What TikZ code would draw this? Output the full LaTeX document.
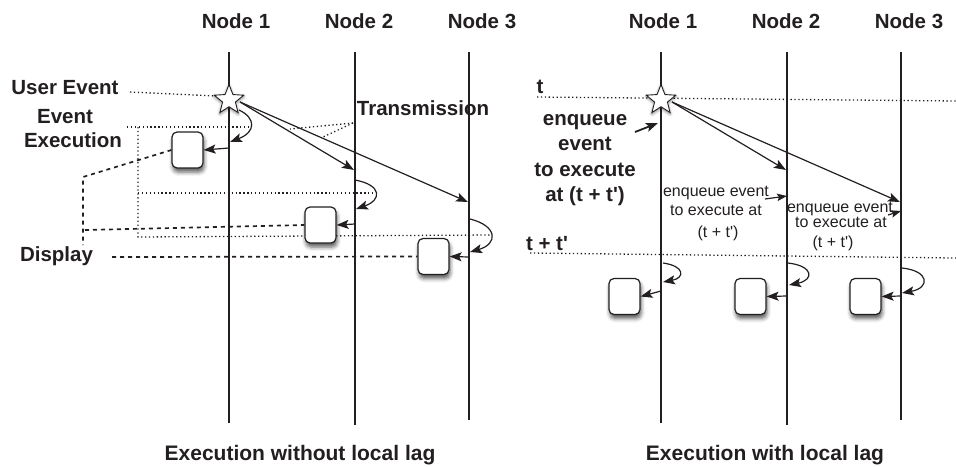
\documentclass[tikz,border=0pt]{standalone}
\usepackage{fontspec}
\setmainfont{Liberation Sans}
\usetikzlibrary{arrows.meta,shapes.geometric,shadows.blur}
\definecolor{ink}{HTML}{231F20}
\begin{document}
\begin{tikzpicture}[x=1pt,y=-1pt,
 lbl/.style={font=\fontsize{20.5}{24}\selectfont\bfseries, text=ink, inner sep=0pt, anchor=base},
 biglbl/.style={font=\fontsize{21}{24}\selectfont\bfseries, text=ink, inner sep=0pt, anchor=base},
 small/.style={font=\fontsize{16}{19}\selectfont, text=ink, inner sep=0pt, anchor=base},
 life/.style={draw=ink, line width=1.2pt},
 arr/.style={draw=ink, line width=1.2pt, -{Stealth[length=12pt,width=9pt,inset=2.5pt]}},
 sarr/.style={draw=ink, line width=1.2pt, -{Stealth[length=10pt,width=7.5pt,inset=2pt]}},
 dotl/.style={draw=ink, line width=1.3pt, dash pattern=on 1.3pt off 2.6pt},
 dshl/.style={draw=ink, line width=1.7pt, dash pattern=on 4pt off 4pt},
 evbox/.style={draw=ink, fill=white, line width=1.2pt, rounded corners=5pt,
   minimum width=31pt, minimum height=36pt, inner sep=0pt,
   blur shadow={shadow xshift=1pt, shadow yshift=-4pt, shadow blur radius=4pt, shadow opacity=65}},
 evstar/.style={star, star points=5, star point ratio=2.3, minimum size=31pt,
   draw=ink, fill=white, line width=0.9pt, inner sep=0pt,
   blur shadow={shadow xshift=0pt, shadow yshift=-1.5pt, shadow blur radius=3pt, shadow opacity=50}}
]
\useasboundingbox (0,0) rectangle (956,466);

% ---------- headers ----------
\node[lbl] (h1) at (236,28) {Node 1};
\node[lbl] (h2) at (359,28) {Node 2};
\node[lbl] (h3) at (482,28) {Node 3};
\node[lbl] (g1) at (663,28) {Node 1};
\node[lbl] (g2) at (786,28) {Node 2};
\node[lbl] (g3) at (909,28) {Node 3};

% ---------- lifelines ----------
\coordinate (L1t) at (229,52); \coordinate (L1b) at (229,423);
\coordinate (L2t) at (355,52); \coordinate (L2b) at (355,425);
\coordinate (L3t) at (469,52); \coordinate (L3b) at (469,420);
\coordinate (R1t) at (661,52); \coordinate (R1b) at (661,423);
\coordinate (R2t) at (787,52); \coordinate (R2b) at (787,425);
\coordinate (R3t) at (901,52); \coordinate (R3b) at (901,420);
\draw[life] (L1t) -- (L1b);
\draw[life] (L2t) -- (L2b);
\draw[life] (L3t) -- (L3b);
\draw[life] (R1t) -- (R1b);
\draw[life] (R2t) -- (R2b);
\draw[life] (R3t) -- (R3b);

% ---------- LEFT: labels ----------
\node[lbl] (ue) at (65,94) {User Event};
\node[lbl] (ee1) at (65,123) {Event};
\node[lbl] (ee2) at (73,147) {Execution};
\node[lbl] (tr) at (423,115) {Transmission};
\node[lbl] (dp) at (56.5,261) {Display};

% dotted annotation lines
\coordinate (ueE) at (130,92);
\coordinate (ueS) at (216,96);
\draw[dotl] (ueE) -- (ueS);
\coordinate (ex0) at (127,127);
\coordinate (ex1) at (250,127);
\coordinate (exc) at (138,127);
\coordinate (exb) at (138,237);
\coordinate (ex2) at (138,193);
\coordinate (ex2e) at (375,193);
\coordinate (ex3e) at (490,235);
\draw[dotl] (ex0) -- (ex1);
\draw[dotl] (exc) -- (exb) -- (ex3e);
\draw[dotl] (ex2) -- (ex2e);
\coordinate (trp) at (353,123);
\coordinate (tra) at (290,129);
\coordinate (trb) at (323,137);
\draw[dotl] (trp) -- (tra);
\draw[dotl] (trp) -- (trb);

% transmission arrows
\coordinate (s1o) at (240,102);
\coordinate (a12) at (354,170);
\coordinate (a13) at (468,202);
\draw[arr] (s1o) -- (a12);
\draw[arr] (s1o) -- (a13);

% loops
\coordinate (lp1s) at (239,110); \coordinate (lp1e) at (230,142);
\draw[arr] (lp1s) .. controls (256,118) and (256,132) .. (lp1e);
\coordinate (lp2s) at (355,180); \coordinate (lp2e) at (356,209);
\draw[arr] (lp2s) .. controls (382,185) and (382,200) .. (lp2e);
\coordinate (lp3s) at (470,219); \coordinate (lp3e) at (470,252);
\draw[arr] (lp3s) .. controls (498,226) and (498,244) .. (lp3e);

% boxes
\node[evbox] (b1) at (187.5,150) {};
\node[evbox] (b2) at (320.5,225) {};
\node[evbox] (b3) at (433.5,256.5) {};
\coordinate (b1a) at (229,148);
\coordinate (b2a) at (355,224);
\coordinate (b3a) at (469,257);
\draw[arr] (b1a) -- (b1.east);
\draw[arr] (b2a) -- (b2.east);
\draw[arr] (b3a) -- (b3.east);

% display dashed lines
\coordinate (d1) at (83,177);
\coordinate (d1b) at (83,245);
\draw[dshl] (b1.west) -- (d1) -- (d1b);
\coordinate (d2) at (85,230);
\draw[dshl] (d2) -- (b2.west);
\coordinate (d3) at (112,257);
\draw[dshl] (d3) -- (b3.west);

% star
\node[evstar] (star1) at (229,100) {};

% bottom label
\node[biglbl] (cap1) at (300,460) {Execution without local lag};

% ---------- RIGHT ----------
\node[lbl] (tl) at (540,93) {t};
\node[lbl] (ttl) at (547,250) {t + t\textquotesingle};
\coordinate (tls) at (537,97); \coordinate (tle) at (956,101);
\draw[dotl] (tls) -- (tle);
\coordinate (ttls) at (530,253); \coordinate (ttle) at (956,258);
\draw[dotl] (ttls) -- (ttle);

\node[lbl] (q1) at (585,125) {enqueue};
\node[lbl] (q2) at (585,150.5) {event};
\node[lbl] (q3) at (585,176) {to execute};
\node[lbl] (q4) at (585,201.5) {at (t + t\textquotesingle)};
\coordinate (qa) at (635,132);
\coordinate (qb) at (658,123);
\draw[arr, line width=1.8pt] (qa) -- (qb);

\coordinate (s2o) at (672,102);
\coordinate (c12) at (786,170);
\coordinate (c13) at (900,202);
\draw[arr] (s2o) -- (c12);
\draw[arr] (s2o) -- (c13);

\node[small] (m1) at (716,196) {enqueue event};
\node[small] (m2) at (716,215) {to execute at};
\node[small] (m3) at (718,237) {(t + t\textquotesingle)};
\node[small] (n1) at (840,212) {enqueue event};
\node[small] (n2) at (841,227) {to execute at};
\node[small] (n3) at (833,247) {(t + t\textquotesingle)};
\coordinate (ma) at (765,199); \coordinate (mb) at (787,196);
\draw[sarr] (ma) -- (mb);
\coordinate (na) at (888,215); \coordinate (nb) at (901,211);
\draw[sarr] (na) -- (nb);

% loops right
\coordinate (rl1s) at (663,263); \coordinate (rl1e) at (663,282);
\draw[arr] (rl1s) .. controls (685,266) and (685,278) .. (rl1e);
\coordinate (rl2s) at (788,263); \coordinate (rl2e) at (789,285);
\draw[arr] (rl2s) .. controls (814,266) and (814,280) .. (rl2e);
\coordinate (rl3s) at (902,268); \coordinate (rl3e) at (902,293);
\draw[arr] (rl3s) .. controls (930,271) and (930,288) .. (rl3e);

\node[evbox] (rb1) at (624.5,296.5) {};
\node[evbox] (rb2) at (750.5,296.5) {};
\node[evbox] (rb3) at (865.5,296.5) {};
\coordinate (rb1a) at (661,291);
\coordinate (rb2a) at (787,296);
\coordinate (rb3a) at (901,296);
\draw[arr] (rb1a) -- (rb1.east);
\draw[arr] (rb2a) -- (rb2.east);
\draw[arr] (rb3a) -- (rb3.east);

\node[evstar] (star2) at (661,100) {};

\node[biglbl] (cap2) at (765,460) {Execution with local lag};
\end{tikzpicture}
\end{document}
